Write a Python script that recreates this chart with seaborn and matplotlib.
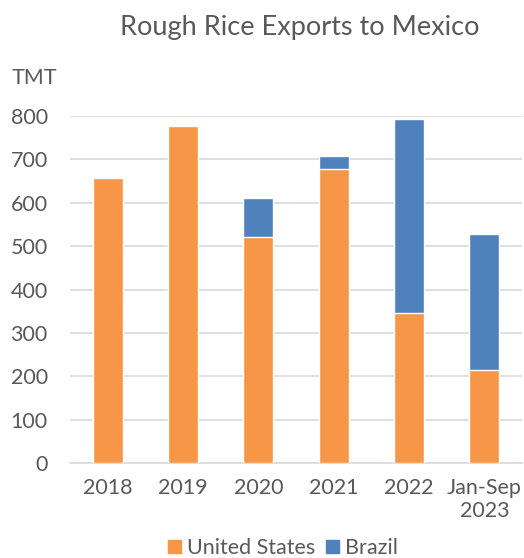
import matplotlib
matplotlib.use('agg')
import matplotlib.pyplot as plt
import numpy as np
import pandas as pd
import seaborn as sns
from matplotlib.patches import Patch

years = ['2018', '2019', '2020', '2021', '2022', 'Jan-Sep\n2023']
us = [656, 778, 522, 677, 345, 214]
brazil = [0, 0, 88, 31, 447, 313]

orange = '#F79646'
blue = '#4F81BD'
grey = '#595959'

sns.set_style('white')
plt.rcParams['font.family'] = ['Lato', 'DejaVu Sans']

df = pd.DataFrame({'year': years, 'us': us, 'brazil': brazil})
df['total'] = df['us'] + df['brazil']

fig = plt.figure(figsize=(5.24, 5.58), dpi=100)
ax = fig.add_axes([70 / 524, 1 - 463 / 558, 452 / 524, (463 - 116) / 558])

sns.barplot(data=df, x='year', y='total', color=blue, width=0.4, ax=ax,
            saturation=1, zorder=2)
sns.barplot(data=df, x='year', y='us', color=orange, width=0.4, ax=ax,
            saturation=1, zorder=3)

ax.set_xlim(-0.5, 5.5)
ax.set_ylim(0, 800)
ax.set_yticks(range(0, 801, 100))
ax.yaxis.grid(True, color='#D9D9D9', linewidth=1.2, zorder=0)
ax.set_axisbelow(True)
ax.set_xlabel('')
ax.set_ylabel('')
for s in ['top', 'right', 'left']:
    ax.spines[s].set_visible(False)
ax.spines['bottom'].set_color('#D9D9D9')
ax.spines['bottom'].set_linewidth(1.2)
ax.tick_params(axis='x', length=0, pad=11, labelsize=15.5, labelcolor=grey)
ax.tick_params(axis='y', length=0, pad=16, labelsize=15.5, labelcolor=grey)
for lbl in ax.get_xticklabels():
    lbl.set_linespacing(1.15)
ax.set_xticks(np.arange(-0.5, 6, 1), minor=True)
ax.tick_params(axis='x', which='minor', length=6, color='#D9D9D9', width=1.2)

fig.text(300 / 524, 1 - 28 / 558, 'Rough Rice Exports to Mexico', ha='center',
         va='center', fontsize=19.5, color=grey)
fig.text(12 / 524, 1 - 78 / 558, 'TMT', ha='left', va='center', fontsize=15.5,
         color=grey)

handles = [Patch(color=orange, label='United States'), Patch(color=blue, label='Brazil')]
fig.legend(handles=handles, loc='center', bbox_to_anchor=(283 / 524, 1 - 548 / 558),
           ncol=2, frameon=False, fontsize=15.5, labelcolor=grey, handlelength=0.6,
           handleheight=0.6, handletextpad=0.3, columnspacing=0.5)

fig.savefig('out.png', dpi=100)
